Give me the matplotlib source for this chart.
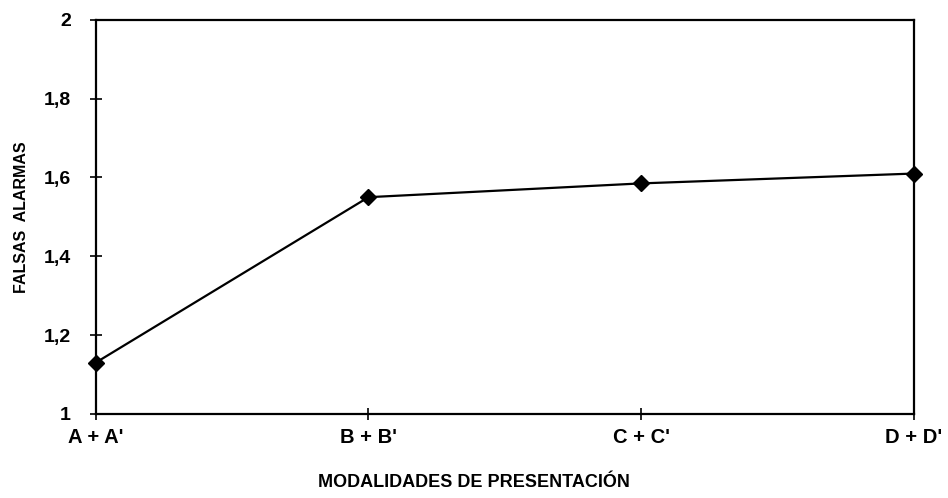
import matplotlib
matplotlib.use("Agg")
import matplotlib.pyplot as plt

# mean false alarms per presentation mode
modes = ["A + A'", "B + B'", "C + C'", "D + D'"]
falsas_alarmas = [1.13, 1.55, 1.585, 1.61]
y_ticks = [1.0, 1.2, 1.4, 1.6, 1.8, 2.0]
y_tick_labels = ["1", "1,2", "1,4", "1,6", "1,8", "2"]

plt.rcParams['font.family'] = ['Liberation Sans', 'DejaVu Sans']
plt.rcParams['font.weight'] = 'bold'

fig = plt.figure(figsize=(9.48, 4.98), dpi=100)
ax = fig.add_axes([0.101, 0.169, 0.863, 0.791])

x = list(range(len(modes)))
ax.plot(x, falsas_alarmas, color="black", lw=1.6, marker="D", ms=8.5,
        markerfacecolor="black", markeredgecolor="black", clip_on=False, zorder=5)

ax.set_xlim(0, len(modes) - 1)
ax.set_ylim(1, 2)
ax.set_xticks(x)
ax.set_xticklabels(modes, fontsize=14.5, fontweight="bold")
ax.set_yticks(y_ticks)
ax.set_yticklabels(y_tick_labels, fontsize=14, fontweight="bold")
ax.tick_params(direction="inout", length=8, width=1.2)
ax.tick_params(axis="x", pad=6)
ax.tick_params(axis="y", pad=14)

for s in ax.spines.values():
    s.set_linewidth(1.6)
    s.set_color("black")

ax.set_xlabel("MODALIDADES DE PRESENTACIÓN", fontsize=13, fontweight="bold")
ax.xaxis.set_label_coords(0.462, -0.152)
ax.set_ylabel("FALSAS  ALARMAS", fontsize=11.5, fontweight="bold")
ax.yaxis.set_label_coords(-0.082, 0.5)

fig.savefig("out.png", dpi=100)
